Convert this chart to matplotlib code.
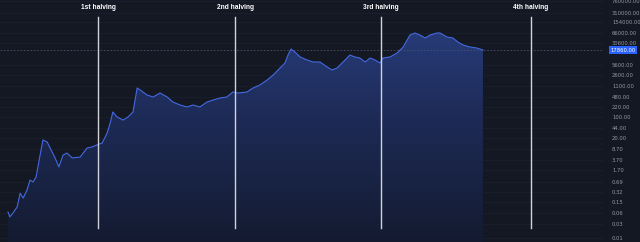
import numpy as np
import matplotlib
matplotlib.use("Agg")
import matplotlib.pyplot as plt
from matplotlib.colors import LinearSegmentedColormap

# ---- data (decimal year, price) ----
years = [2010.54, 2010.59, 2010.67, 2010.78, 2010.86, 2010.94, 2011.04, 2011.12, 2011.20, 2011.28,
         2011.36, 2011.46, 2011.57, 2011.65, 2011.78, 2011.88, 2011.99, 2012.09, 2012.23, 2012.44,
         2012.62, 2012.75, 2012.88, 2013.02, 2013.15, 2013.23, 2013.30, 2013.41, 2013.57, 2013.70,
         2013.83, 2013.94, 2014.02, 2014.20, 2014.36, 2014.54, 2014.73, 2014.88, 2015.07, 2015.25,
         2015.41, 2015.59, 2015.78, 2015.94, 2016.12, 2016.30, 2016.46, 2016.59, 2016.83, 2016.99,
         2017.17, 2017.36, 2017.52, 2017.70, 2017.83, 2017.91, 2017.99, 2018.09, 2018.23, 2018.41,
         2018.57, 2018.75, 2018.94, 2019.07, 2019.20, 2019.36, 2019.54, 2019.67, 2019.80, 2019.94,
         2020.07, 2020.20, 2020.33, 2020.41, 2020.59, 2020.78, 2020.94, 2021.12, 2021.25, 2021.38,
         2021.52, 2021.65, 2021.83, 2021.91, 2022.09, 2022.25, 2022.38, 2022.52, 2022.70, 2022.88,
         2023.04]
prices = [0.068, 0.047, 0.063, 0.10, 0.29, 0.20, 0.37, 0.80, 0.69, 1.01,
          3.7, 17.5, 15.0, 9.4, 4.4, 2.2, 5.5, 6.4, 4.4, 4.7,
          9.4, 10.2, 11.9, 13.9, 29.9, 64.7, 151, 103, 81, 103,
          151, 958, 821, 559, 479, 651, 479, 326, 259, 222,
          259, 222, 326, 380, 443, 479, 703, 651, 703, 958,
          1207, 1773, 2605, 4466, 6560, 12140, 19280, 15300, 10420, 8280,
          7090, 7090, 4820, 3830, 4466, 7090, 12140, 10420, 9650, 7090,
          9650, 8280, 6560, 9650, 10420, 14170, 22490, 56700, 66200, 56700,
          45000, 56700, 66200, 66200, 48600, 45000, 33000, 26200, 22490, 20800,
          17860]

halving_years = [2012.91, 2016.52, 2020.36, 2024.30]
halving_labels = ["1st halving", "2nd halving", "3rd halving", "4th halving"]

tick_values = [760000, 310000, 154000, 66000, 30600, 5600, 2600, 1100, 480, 220, 100,
               44, 20, 8.7, 3.7, 1.7, 0.69, 0.32, 0.15, 0.063, 0.027, 0.0092]

BG = "#141823"

fig = plt.figure(figsize=(6.4, 2.42), dpi=100, facecolor=BG)
ax = fig.add_axes([0, 0, 603 / 640, 1])
ax.set_facecolor(BG)
ax.set_yscale("log")
ax.set_xlim(2010.33, 2026.2)
ax.set_ylim(0.00679, 839000)

# grid
for v in tick_values:
    ax.axhline(v, color="#1c2030", lw=0.5, zorder=0)

# gradient fill under the line
poly = ax.fill_between(years, prices, 1e-5, color="none", lw=0)
cmap = LinearSegmentedColormap.from_list("g", ["#141b31", "#1d2a55", "#2b4185"])
grad = np.linspace(0, 1, 256).reshape(-1, 1)
im = ax.imshow(grad, extent=[0, 1, 0, 1], transform=ax.transAxes, aspect="auto",
               cmap=cmap, origin="lower", zorder=1)
path = poly.get_paths()[0]
im.set_clip_path(path, transform=ax.transData)

ax.plot(years, prices, color="#4369e0", lw=0.8, zorder=3)

# current price dashed line
last = prices[-1]
ax.axhline(last, color="#4a5270", lw=0.6, ls=(0, (2, 2)), zorder=2)

# halving lines
for hy, lab in zip(halving_years, halving_labels):
    ax.axvline(hy, ymin=0.058, ymax=0.93, color="#d0d3da", lw=1.0, zorder=4)
    ax.text(hy, 0.967, lab, transform=ax.get_xaxis_transform(), ha="center", va="center",
            color="white", fontsize=4.8, fontweight="bold", family="Liberation Sans")

# axes styling
for s in ax.spines.values():
    s.set_visible(False)
ax.set_xticks([])
ax.yaxis.tick_right()
ax.set_yticks(tick_values)
ax.set_yticklabels([f"{v:.2f}" for v in tick_values])
ax.yaxis.set_minor_locator(matplotlib.ticker.NullLocator())
ax.tick_params(axis="y", length=0, pad=6.5, labelsize=3.8, labelcolor="#9297a4")

# price label box
ax.text(1.012, last, f"{last:.2f}", transform=ax.get_yaxis_transform(), ha="left", va="center",
        fontsize=3.8, color="white",
        bbox=dict(boxstyle="square,pad=0.3", fc="#2962ff", ec="none"), zorder=10, clip_on=False)

fig.savefig("out.png", dpi=100, facecolor=BG)
